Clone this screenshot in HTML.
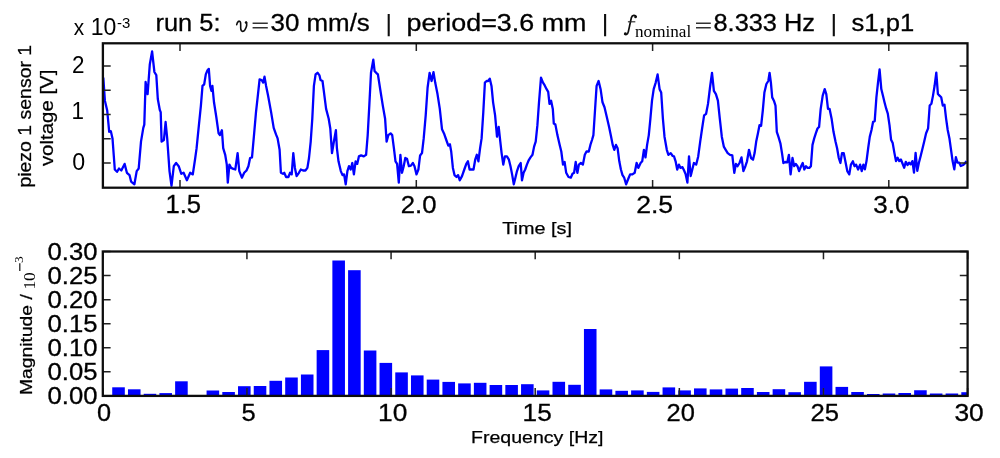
<!DOCTYPE html><html><head><meta charset="utf-8"><style>html,body{margin:0;padding:0;background:#fff;overflow:hidden;}svg{display:block;}text{font-family:"Liberation Sans",sans-serif;fill:#000;}</style></head><body>
<svg width="1000" height="458" viewBox="0 0 1000 458">
<rect width="1000" height="458" fill="#fff"/>
<filter id="soft" x="0" y="0" width="1000" height="458" filterUnits="userSpaceOnUse"><feGaussianBlur stdDeviation="0.3"/></filter><g filter="url(#soft)">
<defs><clipPath id="c1"><rect x="102.9" y="43.3" width="864.6" height="144.4"/></clipPath><clipPath id="c2"><rect x="102.8" y="251.5" width="864.8" height="144.4"/></clipPath></defs>
<path d="M103.3 77.7 L104.9 100.7 L107.2 110.5 L109.2 131.8 L110.8 131.1 L112.5 138.4 L114.8 169.5 L117.0 171.8 L119.0 168.5 L121.3 170.5 L124.6 163.9 L126.9 172.8 L129.5 175.1 L131.1 181.6 L134.4 184.3 L136.7 171.1 L138.7 168.5 L141.0 141.6 L143.3 127.9 L144.3 124.6 L145.6 82.0 L147.6 94.2 L149.8 64.4 L152.1 51.5 L154.4 72.0 L156.3 75.1 L157.8 99.0 L159.8 110.0 L160.7 112.1 L161.6 141.6 L163.9 140.0 L165.6 122.0 L167.2 138.4 L169.5 171.1 L171.5 185.9 L173.8 166.2 L176.1 163.0 L178.7 166.2 L181.3 173.8 L183.6 172.8 L186.9 180.3 L190.2 172.8 L192.8 174.4 L195.1 159.0 L196.6 148.2 L198.9 125.2 L200.9 105.6 L202.5 85.9 L204.2 84.3 L205.8 74.4 L207.5 70.2 L208.8 68.9 L210.1 85.9 L211.4 90.8 L212.4 85.9 L214.0 102.3 L216.3 117.0 L218.6 133.4 L219.9 135.1 L221.9 130.2 L223.2 148.2 L225.2 154.8 L226.8 164.6 L227.8 182.6 L229.4 164.6 L231.1 167.9 L233.4 168.9 L235.3 169.5 L237.6 153.1 L239.3 171.1 L241.9 177.7 L244.2 172.8 L246.5 170.5 L248.4 166.2 L250.1 158.0 L252.0 157.4 L254.0 135.1 L256.0 112.1 L258.0 94.1 L259.6 79.3 L261.6 80.0 L263.2 82.6 L264.5 76.7 L266.1 85.9 L268.1 95.7 L271.1 112.1 L273.7 127.9 L276.0 134.4 L277.6 138.4 L279.6 149.8 L280.9 172.8 L282.9 173.8 L284.2 172.8 L286.1 177.0 L288.4 177.0 L290.1 172.8 L291.7 174.4 L293.3 153.1 L294.9 167.9 L296.6 176.1 L298.9 172.8 L300.8 169.5 L303.1 170.5 L305.4 170.5 L307.4 167.9 L309.0 158.0 L310.7 141.6 L312.3 118.7 L313.9 85.9 L315.6 74.4 L317.5 72.8 L319.5 75.4 L320.5 80.0 L322.5 81.0 L323.8 90.8 L326.1 108.9 L328.7 118.7 L330.3 128.5 L332.0 153.1 L333.6 143.3 L335.9 130.2 L336.9 148.2 L338.5 161.3 L340.8 171.1 L342.5 175.1 L344.1 174.4 L345.7 184.3 L347.4 171.1 L349.0 166.2 L350.7 169.5 L352.3 163.0 L353.9 174.4 L355.6 161.3 L357.2 163.9 L358.9 156.4 L361.1 155.4 L363.8 156.4 L366.1 154.8 L367.7 135.1 L369.3 105.6 L371.0 72.8 L373.3 59.7 L374.6 71.1 L376.2 72.8 L377.9 74.4 L380.2 89.2 L382.8 105.6 L385.1 118.7 L386.6 141.6 L388.3 135.1 L390.6 133.4 L392.2 135.1 L393.9 148.2 L395.5 161.3 L397.1 163.9 L398.8 182.6 L400.4 154.8 L402.0 172.8 L403.7 166.2 L405.3 158.0 L407.0 158.7 L408.9 166.2 L410.9 165.6 L412.9 163.0 L414.5 166.2 L416.5 174.4 L418.4 169.5 L420.1 155.4 L422.0 153.1 L423.7 138.4 L425.7 115.4 L427.6 87.5 L429.6 72.8 L431.6 81.0 L433.5 72.1 L435.2 82.6 L437.5 94.1 L439.8 108.9 L442.0 129.2 L444.0 133.4 L446.3 140.0 L448.3 145.6 L449.9 144.3 L451.2 151.5 L452.9 167.9 L454.5 175.1 L456.5 177.0 L458.1 175.1 L459.8 180.3 L462.0 176.1 L464.3 169.5 L466.3 163.9 L467.9 161.3 L469.6 169.5 L471.9 169.5 L473.5 169.5 L475.2 159.7 L476.8 154.8 L478.4 161.3 L480.1 148.2 L481.6 138.4 L483.3 112.1 L484.9 82.6 L486.6 81.0 L488.2 81.0 L489.8 78.7 L491.5 85.9 L493.1 102.3 L495.1 115.4 L497.0 136.7 L498.7 126.9 L500.3 141.6 L501.6 153.1 L503.3 164.6 L504.9 156.4 L506.9 156.4 L508.9 159.7 L510.5 166.2 L512.1 174.4 L513.8 184.3 L515.4 177.7 L517.0 171.1 L518.7 166.2 L520.7 163.0 L522.0 180.3 L523.6 172.8 L525.2 169.5 L526.9 164.6 L528.5 160.7 L530.5 157.4 L532.5 154.8 L534.1 146.6 L535.7 141.6 L537.4 125.2 L539.0 102.3 L541.0 77.7 L543.0 82.6 L544.6 85.2 L546.6 89.2 L548.2 91.8 L549.5 103.9 L551.1 100.7 L552.8 108.9 L553.8 123.6 L555.4 124.6 L557.4 135.1 L559.7 144.9 L561.3 151.5 L563.0 164.6 L564.6 162.0 L566.2 172.8 L568.5 177.0 L570.8 177.7 L572.5 173.8 L574.1 172.8 L575.7 162.0 L577.4 172.8 L578.9 164.6 L580.9 163.0 L582.9 164.6 L584.8 154.8 L586.5 151.5 L588.8 151.5 L590.4 144.9 L592.0 140.0 L593.4 135.1 L595.0 110.5 L596.6 85.9 L598.6 81.0 L600.6 89.2 L602.5 102.3 L604.5 107.2 L606.8 117.0 L609.1 126.9 L611.1 136.7 L612.7 144.9 L614.3 149.8 L616.0 144.9 L617.6 148.2 L619.3 161.3 L620.9 169.5 L622.5 175.1 L624.2 177.7 L626.1 184.3 L628.1 179.3 L630.1 174.4 L632.4 174.4 L634.7 172.8 L636.6 163.0 L638.3 167.9 L640.6 163.0 L642.2 161.3 L643.9 149.8 L645.5 157.4 L647.1 144.9 L648.8 135.1 L650.4 118.7 L652.0 100.7 L653.7 89.2 L655.7 82.6 L657.6 74.4 L659.6 89.2 L661.2 92.5 L662.9 118.7 L664.5 136.7 L666.8 149.8 L668.4 154.8 L670.7 153.1 L672.7 156.0 L674.0 156.4 L675.6 161.3 L677.2 169.5 L678.9 164.6 L680.5 167.9 L682.5 167.2 L684.1 170.5 L685.7 174.4 L687.4 182.6 L689.0 156.4 L690.7 176.1 L692.3 169.5 L693.9 163.0 L696.2 164.6 L698.2 156.4 L700.2 141.6 L702.1 128.5 L704.1 115.4 L706.1 113.8 L708.0 103.9 L710.0 87.5 L712.0 72.8 L713.9 90.8 L715.9 94.1 L717.9 100.7 L719.8 118.7 L721.8 136.7 L723.8 146.6 L725.7 149.8 L727.7 153.1 L730.0 154.8 L732.3 155.4 L734.3 172.8 L735.9 163.9 L737.5 166.2 L739.5 163.0 L741.5 157.4 L743.4 171.1 L745.4 166.2 L747.0 161.3 L749.0 149.8 L751.0 158.0 L753.0 159.7 L754.6 153.1 L756.2 141.6 L757.9 133.4 L759.5 125.2 L761.1 125.9 L762.8 110.5 L764.4 92.5 L766.4 84.0 L768.3 81.0 L769.6 72.8 L770.9 82.6 L772.2 97.4 L773.9 100.7 L775.5 105.6 L776.8 131.8 L778.4 136.7 L780.4 143.3 L782.0 153.1 L783.4 163.0 L785.3 162.0 L787.3 162.3 L788.9 154.8 L790.6 174.4 L792.5 158.0 L794.2 166.2 L795.8 163.9 L797.5 166.2 L799.1 171.1 L801.1 166.2 L802.7 163.0 L804.3 169.5 L806.0 166.2 L807.6 167.9 L809.3 167.9 L810.9 166.2 L812.5 144.9 L814.2 138.4 L815.8 133.4 L817.5 128.5 L819.1 126.9 L820.7 108.9 L822.7 95.7 L824.7 89.2 L826.3 94.1 L828.0 108.9 L829.6 108.9 L831.6 118.7 L833.5 131.8 L835.5 141.6 L837.1 148.2 L838.8 158.0 L840.4 163.0 L842.0 153.1 L843.7 153.1 L845.7 163.0 L847.3 171.1 L849.3 174.4 L850.9 164.6 L852.9 161.3 L854.5 166.2 L856.1 164.6 L858.1 169.5 L860.1 164.6 L861.7 171.1 L863.4 164.6 L864.9 169.3 L866.5 161.1 L868.2 148.0 L869.8 136.6 L871.5 130.0 L873.1 121.8 L874.7 121.2 L876.4 97.3 L878.0 82.6 L879.6 69.5 L881.3 89.1 L882.9 95.6 L884.5 102.2 L886.2 108.7 L887.8 113.6 L889.5 125.1 L891.1 139.8 L892.7 143.1 L894.4 152.9 L896.0 161.1 L897.6 157.8 L899.3 161.1 L900.9 159.5 L902.6 163.7 L904.2 167.7 L905.8 161.8 L907.5 165.0 L909.1 162.7 L910.7 164.4 L912.4 161.1 L914.0 172.6 L915.6 152.9 L917.3 170.9 L918.9 162.7 L920.6 156.2 L922.2 149.7 L924.2 141.5 L926.1 133.3 L928.1 128.4 L929.7 105.5 L931.4 103.8 L933.0 95.6 L934.6 85.8 L936.3 72.7 L937.9 94.0 L939.5 95.6 L941.2 97.3 L942.8 105.5 L944.5 104.8 L946.1 118.6 L947.7 130.0 L949.4 138.2 L951.0 149.7 L952.6 161.1 L954.3 169.3 L955.9 157.2 L957.5 162.7 L959.2 162.7 L960.8 166.0 L963.1 165.0 L964.7 163.7 L966.4 161.1" fill="none" stroke="#0000ff" stroke-width="2.3" stroke-linejoin="round" clip-path="url(#c1)"/>
<g fill="#0000ff" clip-path="url(#c2)"><rect x="112.23" y="387.30" width="12.58" height="8.60"/><rect x="127.96" y="389.30" width="12.58" height="6.60"/><rect x="143.68" y="393.80" width="12.58" height="2.10"/><rect x="159.41" y="393.10" width="12.58" height="2.80"/><rect x="175.13" y="381.30" width="12.58" height="14.60"/><rect x="206.58" y="390.50" width="12.58" height="5.40"/><rect x="222.30" y="392.00" width="12.58" height="3.90"/><rect x="238.02" y="386.20" width="12.58" height="9.70"/><rect x="253.75" y="386.00" width="12.58" height="9.90"/><rect x="269.47" y="380.80" width="12.58" height="15.10"/><rect x="285.19" y="377.50" width="12.58" height="18.40"/><rect x="300.92" y="374.50" width="12.58" height="21.40"/><rect x="316.64" y="350.10" width="12.58" height="45.80"/><rect x="332.37" y="260.50" width="12.58" height="135.40"/><rect x="348.09" y="270.20" width="12.58" height="125.70"/><rect x="363.81" y="350.50" width="12.58" height="45.40"/><rect x="379.54" y="362.90" width="12.58" height="33.00"/><rect x="395.26" y="372.40" width="12.58" height="23.50"/><rect x="410.98" y="375.40" width="12.58" height="20.50"/><rect x="426.71" y="379.60" width="12.58" height="16.30"/><rect x="442.43" y="381.90" width="12.58" height="14.00"/><rect x="458.15" y="383.40" width="12.58" height="12.50"/><rect x="473.88" y="382.80" width="12.58" height="13.10"/><rect x="489.60" y="385.00" width="12.58" height="10.90"/><rect x="505.33" y="385.00" width="12.58" height="10.90"/><rect x="521.05" y="384.20" width="12.58" height="11.70"/><rect x="536.77" y="390.40" width="12.58" height="5.50"/><rect x="552.50" y="381.80" width="12.58" height="14.10"/><rect x="568.22" y="384.80" width="12.58" height="11.10"/><rect x="583.94" y="329.00" width="12.58" height="66.90"/><rect x="599.67" y="389.40" width="12.58" height="6.50"/><rect x="615.39" y="390.80" width="12.58" height="5.10"/><rect x="631.11" y="390.40" width="12.58" height="5.50"/><rect x="646.84" y="391.90" width="12.58" height="4.00"/><rect x="662.56" y="387.40" width="12.58" height="8.50"/><rect x="678.29" y="390.40" width="12.58" height="5.50"/><rect x="694.01" y="388.40" width="12.58" height="7.50"/><rect x="709.73" y="389.40" width="12.58" height="6.50"/><rect x="725.46" y="388.60" width="12.58" height="7.30"/><rect x="741.18" y="388.00" width="12.58" height="7.90"/><rect x="756.90" y="392.00" width="12.58" height="3.90"/><rect x="772.63" y="389.20" width="12.58" height="6.70"/><rect x="788.35" y="392.20" width="12.58" height="3.70"/><rect x="804.07" y="381.80" width="12.58" height="14.10"/><rect x="819.80" y="366.40" width="12.58" height="29.50"/><rect x="835.52" y="386.90" width="12.58" height="9.00"/><rect x="851.25" y="392.00" width="12.58" height="3.90"/><rect x="866.97" y="394.00" width="12.58" height="1.90"/><rect x="882.69" y="393.50" width="12.58" height="2.40"/><rect x="898.42" y="393.00" width="12.58" height="2.90"/><rect x="914.14" y="390.25" width="12.58" height="5.65"/><rect x="929.86" y="393.50" width="12.58" height="2.40"/><rect x="945.59" y="393.50" width="12.58" height="2.40"/><rect x="961.31" y="392.20" width="12.58" height="3.70"/></g>
<path d="M180.0 43.3v7.8 M180.0 187.7v-7.8 M416.3 43.3v7.8 M416.3 187.7v-7.8 M652.6 43.3v7.8 M652.6 187.7v-7.8 M888.8 43.3v7.8 M888.8 187.7v-7.8 M102.9 162.90h7.8 M967.5 162.90h-7.8 M102.9 138.68h7.8 M967.5 138.68h-7.8 M102.9 114.45h7.8 M967.5 114.45h-7.8 M102.9 90.22h7.8 M967.5 90.22h-7.8 M102.9 66.00h7.8 M967.5 66.00h-7.8 M102.80 251.5v7.8 M102.80 395.9v-7.8 M246.93 251.5v7.8 M246.93 395.9v-7.8 M391.07 251.5v7.8 M391.07 395.9v-7.8 M535.20 251.5v7.8 M535.20 395.9v-7.8 M679.33 251.5v7.8 M679.33 395.9v-7.8 M823.47 251.5v7.8 M823.47 395.9v-7.8 M967.60 251.5v7.8 M967.60 395.9v-7.8 M102.8 395.90h7.8 M967.6 395.90h-7.8 M102.8 371.83h7.8 M967.6 371.83h-7.8 M102.8 347.77h7.8 M967.6 347.77h-7.8 M102.8 323.70h7.8 M967.6 323.70h-7.8 M102.8 299.63h7.8 M967.6 299.63h-7.8 M102.8 275.57h7.8 M967.6 275.57h-7.8 M102.8 251.50h7.8 M967.6 251.50h-7.8" stroke="#222" stroke-width="1.5" fill="none"/>
<rect x="102.9" y="43.3" width="864.6" height="144.4" fill="none" stroke="#111" stroke-width="2.3"/>
<rect x="102.8" y="251.5" width="864.8" height="144.4" fill="none" stroke="#111" stroke-width="2.3"/>
<path d="M388.7 14.1V36.2 M605.1 14.1V36.2 M833.8 14.1V36.2" stroke="#111" stroke-width="2.1"/>
<path d="M236.7 24.6 C237.3 21.6 239.2 20.2 240.3 21.9 C241.2 23.5 240.3 27 240.9 29.8 C241.4 31.7 243.6 32 244.9 29.8 C246.3 27.5 247.2 24.5 246.4 22.2" fill="none" stroke="#111" stroke-width="1.6" stroke-linecap="round"/><circle cx="246.0" cy="22.4" r="1.25" fill="#111"/>
<path d="M636.1 16.6 C635.2 14.7 632.4 14.8 631.4 17.6 L628.4 31.4 C627.8 34.4 625.9 35.1 624.7 34.0" fill="none" stroke="#111" stroke-width="1.7" stroke-linecap="round"/><circle cx="635.5" cy="16.9" r="1.3" fill="#111"/><circle cx="625.4" cy="33.5" r="1.3" fill="#111"/><path d="M627.9 21.8H635.3" stroke="#222" stroke-width="1.1"/>
<path d="M252.6 23.2H267.8 M252.6 27.7H267.8 M696 23.2H710.8 M696 27.7H710.8" stroke="#333" stroke-width="1.5"/>
<path d="M19.8 263.3V271" stroke="#222" stroke-width="1.3"/>
<text x="155.50" y="30.80" font-size="24.70" style="font-family:'Liberation Sans',sans-serif;stroke:#000;stroke-width:0.3px;" textLength="65.02" lengthAdjust="spacingAndGlyphs">run 5:</text>
<text x="270.50" y="30.80" font-size="23.50" style="font-family:'Liberation Sans',sans-serif;stroke:#000;stroke-width:0.3px;" textLength="99.34" lengthAdjust="spacingAndGlyphs">30 mm/s</text>
<text x="406.50" y="31.20" font-size="23.50" style="font-family:'Liberation Sans',sans-serif;stroke:#000;stroke-width:0.3px;" textLength="179.90" lengthAdjust="spacingAndGlyphs">period=3.6 mm</text>
<text x="713.50" y="30.80" font-size="23.50" style="font-family:'Liberation Sans',sans-serif;stroke:#000;stroke-width:0.3px;" textLength="101.39" lengthAdjust="spacingAndGlyphs">8.333 Hz</text>
<text x="851.50" y="31.20" font-size="23.50" style="font-family:'Liberation Sans',sans-serif;stroke:#000;stroke-width:0.3px;" textLength="62.63" lengthAdjust="spacingAndGlyphs">s1,p1</text>
<text x="635.00" y="37.00" font-size="16.50" style="font-family:'Liberation Serif',serif;" textLength="56.24" lengthAdjust="spacingAndGlyphs">nominal</text>
<text x="73.80" y="35.40" font-size="22.45" style="font-family:'Liberation Sans',sans-serif;" textLength="10.39" lengthAdjust="spacingAndGlyphs">x</text>
<text x="90.80" y="35.40" font-size="24.50" style="font-family:'Liberation Sans',sans-serif;" textLength="25.64" lengthAdjust="spacingAndGlyphs">10</text>
<text x="117.10" y="28.00" font-size="15.46" style="font-family:'Liberation Sans',sans-serif;" textLength="13.28" lengthAdjust="spacingAndGlyphs">-3</text>
<text x="72.10" y="73.00" font-size="23.51" style="font-family:'Liberation Sans',sans-serif;" textLength="12.48" lengthAdjust="spacingAndGlyphs">2</text>
<text x="71.60" y="119.40" font-size="23.42" style="font-family:'Liberation Sans',sans-serif;" textLength="12.49" lengthAdjust="spacingAndGlyphs">1</text>
<text x="72.20" y="169.70" font-size="23.99" style="font-family:'Liberation Sans',sans-serif;" textLength="12.92" lengthAdjust="spacingAndGlyphs">0</text>
<text x="165.40" y="212.60" font-size="24.99" style="font-family:'Liberation Sans',sans-serif;stroke:#000;stroke-width:0.3px;" textLength="35.69" lengthAdjust="spacingAndGlyphs">1.5</text>
<text x="400.80" y="212.60" font-size="24.00" style="font-family:'Liberation Sans',sans-serif;stroke:#000;stroke-width:0.3px;" textLength="35.75" lengthAdjust="spacingAndGlyphs">2.0</text>
<text x="636.20" y="212.60" font-size="24.00" style="font-family:'Liberation Sans',sans-serif;stroke:#000;stroke-width:0.3px;" textLength="36.96" lengthAdjust="spacingAndGlyphs">2.5</text>
<text x="873.20" y="212.60" font-size="24.00" style="font-family:'Liberation Sans',sans-serif;stroke:#000;stroke-width:0.3px;" textLength="36.17" lengthAdjust="spacingAndGlyphs">3.0</text>
<text x="502.20" y="233.80" font-size="17.30" style="font-family:'Liberation Sans',sans-serif;stroke:#000;stroke-width:0.25px;" textLength="69.77" lengthAdjust="spacingAndGlyphs">Time [s]</text>
<text transform="translate(30.80,187.60) rotate(-90)" x="0" y="0" font-size="18.00" style="font-family:'Liberation Sans',sans-serif;stroke:#000;stroke-width:0.25px;" textLength="142.80" lengthAdjust="spacingAndGlyphs">piezo 1 sensor 1</text>
<text transform="translate(52.85,166.10) rotate(-90)" x="0" y="0" font-size="18.00" style="font-family:'Liberation Sans',sans-serif;stroke:#000;stroke-width:0.25px;" textLength="96.49" lengthAdjust="spacingAndGlyphs">voltage [V]</text>
<text x="47.50" y="403.80" font-size="23.03" style="font-family:'Liberation Sans',sans-serif;stroke:#000;stroke-width:0.3px;" textLength="49.93" lengthAdjust="spacingAndGlyphs">0.00</text>
<text x="47.50" y="379.80" font-size="23.03" style="font-family:'Liberation Sans',sans-serif;stroke:#000;stroke-width:0.3px;" textLength="49.95" lengthAdjust="spacingAndGlyphs">0.05</text>
<text x="47.50" y="355.80" font-size="23.03" style="font-family:'Liberation Sans',sans-serif;stroke:#000;stroke-width:0.3px;" textLength="49.93" lengthAdjust="spacingAndGlyphs">0.10</text>
<text x="47.50" y="331.80" font-size="23.03" style="font-family:'Liberation Sans',sans-serif;stroke:#000;stroke-width:0.3px;" textLength="49.95" lengthAdjust="spacingAndGlyphs">0.15</text>
<text x="47.50" y="307.80" font-size="23.03" style="font-family:'Liberation Sans',sans-serif;stroke:#000;stroke-width:0.3px;" textLength="49.93" lengthAdjust="spacingAndGlyphs">0.20</text>
<text x="47.50" y="283.80" font-size="23.03" style="font-family:'Liberation Sans',sans-serif;stroke:#000;stroke-width:0.3px;" textLength="49.95" lengthAdjust="spacingAndGlyphs">0.25</text>
<text x="47.50" y="259.80" font-size="23.03" style="font-family:'Liberation Sans',sans-serif;stroke:#000;stroke-width:0.3px;" textLength="49.93" lengthAdjust="spacingAndGlyphs">0.30</text>
<text x="97.00" y="421.40" font-size="23.89" style="font-family:'Liberation Sans',sans-serif;stroke:#000;stroke-width:0.3px;" textLength="14.10" lengthAdjust="spacingAndGlyphs">0</text>
<text x="241.60" y="421.40" font-size="23.89" style="font-family:'Liberation Sans',sans-serif;stroke:#000;stroke-width:0.3px;" textLength="14.19" lengthAdjust="spacingAndGlyphs">5</text>
<text x="378.00" y="421.40" font-size="23.89" style="font-family:'Liberation Sans',sans-serif;stroke:#000;stroke-width:0.3px;" textLength="29.28" lengthAdjust="spacingAndGlyphs">10</text>
<text x="522.60" y="421.40" font-size="23.89" style="font-family:'Liberation Sans',sans-serif;stroke:#000;stroke-width:0.3px;" textLength="29.10" lengthAdjust="spacingAndGlyphs">15</text>
<text x="666.60" y="421.40" font-size="23.89" style="font-family:'Liberation Sans',sans-serif;stroke:#000;stroke-width:0.3px;" textLength="28.35" lengthAdjust="spacingAndGlyphs">20</text>
<text x="810.40" y="421.40" font-size="23.89" style="font-family:'Liberation Sans',sans-serif;stroke:#000;stroke-width:0.3px;" textLength="28.52" lengthAdjust="spacingAndGlyphs">25</text>
<text x="954.40" y="421.40" font-size="23.89" style="font-family:'Liberation Sans',sans-serif;stroke:#000;stroke-width:0.3px;" textLength="29.34" lengthAdjust="spacingAndGlyphs">30</text>
<text x="471.00" y="443.40" font-size="17.30" style="font-family:'Liberation Sans',sans-serif;stroke:#000;stroke-width:0.25px;" textLength="132.47" lengthAdjust="spacingAndGlyphs">Frequency [Hz]</text>
<text transform="translate(31.50,395.00) rotate(-90)" x="0" y="0" font-size="16.80" style="font-family:'Liberation Sans',sans-serif;stroke:#000;stroke-width:0.25px;" textLength="100.81" lengthAdjust="spacingAndGlyphs">Magnitude /</text>
<text transform="translate(34.50,289.60) rotate(-90)" x="0" y="0" font-size="16.80" style="font-family:'Liberation Serif',serif;" textLength="17.42" lengthAdjust="spacingAndGlyphs">10</text>
<text transform="translate(23.30,263.00) rotate(-90)" x="0" y="0" font-size="12.00" style="font-family:'Liberation Serif',serif;" textLength="6.67" lengthAdjust="spacingAndGlyphs">3</text>
</g></svg></body></html>
